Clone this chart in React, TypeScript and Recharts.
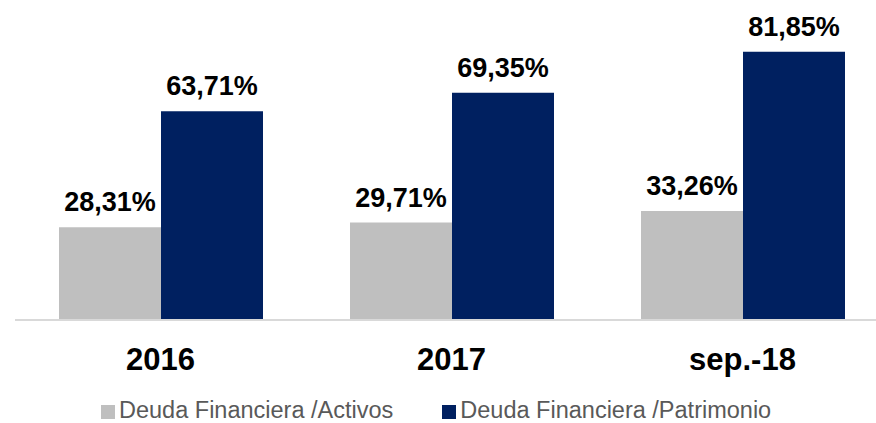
import React from 'react';
import { BarChart, Bar, XAxis, YAxis, LabelList } from 'recharts';

const categories = ['2016', '2017', 'sep.-18'];
const deudaActivos = [28.31, 29.71, 33.26];
const deudaPatrimonio = [63.71, 69.35, 81.85];

const seriesNames = ['Deuda Financiera /Activos', 'Deuda Financiera /Patrimonio'];
const seriesColors = ['#bfbfbf', '#002060'];

const data = categories.map((name, i) => ({
  name,
  activos: deudaActivos[i],
  patrimonio: deudaPatrimonio[i]
}));

const FONT = '"Liberation Sans", Arial, sans-serif';

const fmt = (v: any) => `${Number(v).toFixed(2).replace('.', ',')}%`;

// x axis labels sit well below the baseline
const CategoryTick = (props: any) => {
  const { x, y, payload } = props;
  return (
    <text
      x={x}
      y={y + 48}
      textAnchor="middle"
      fontFamily={FONT}
      fontSize={31}
      fontWeight="bold"
      fill="#000"
    >
      {payload.value}
    </text>
  );
};

export default function App() {
  return (
    <div
      style={{
        position: 'absolute',
        left: 0,
        top: 0,
        width: 876,
        height: 423,
        overflow: 'hidden',
        background: '#fff',
        fontFamily: FONT
      }}
    >
      <BarChart
        width={890}
        height={423}
        data={data}
        margin={{ top: 25, right: 2, left: 15, bottom: 43 }}
        barCategoryGap={44}
        barGap={0}
      >
        <XAxis
          dataKey="name"
          axisLine={{ stroke: '#d9d9d9', strokeWidth: 2 }}
          tickLine={false}
          tickSize={0}
          height={60}
          tick={<CategoryTick />}
          interval={0}
        />
        <YAxis hide domain={[0, 90]} />
        <Bar dataKey="activos" fill={seriesColors[0]} isAnimationActive={false}>
          <LabelList
            dataKey="activos"
            position="top"
            offset={16}
            formatter={fmt}
            style={{ fontFamily: FONT, fontSize: 27, fontWeight: 'bold', fill: '#000' }}
          />
        </Bar>
        <Bar dataKey="patrimonio" fill={seriesColors[1]} isAnimationActive={false}>
          <LabelList
            dataKey="patrimonio"
            position="top"
            offset={16}
            formatter={fmt}
            style={{ fontFamily: FONT, fontSize: 27, fontWeight: 'bold', fill: '#000' }}
          />
        </Bar>
      </BarChart>

      {/* legend */}
      <div
        style={{
          position: 'absolute',
          left: 101,
          top: 400,
          display: 'flex',
          alignItems: 'flex-start',
          fontSize: 23.5,
          lineHeight: '20px',
          color: '#595959',
          whiteSpace: 'nowrap'
        }}
      >
        {seriesNames.map((n, i) => (
          <div
            key={n}
            style={{ display: 'flex', alignItems: 'flex-start', marginRight: i === 0 ? 49 : 0 }}
          >
            <span
              style={{
                display: 'inline-block',
                width: 14,
                height: 14,
                background: seriesColors[i],
                marginRight: 4,
                marginTop: 5
              }}
            />
            <span>{n}</span>
          </div>
        ))}
      </div>
    </div>
  );
}
